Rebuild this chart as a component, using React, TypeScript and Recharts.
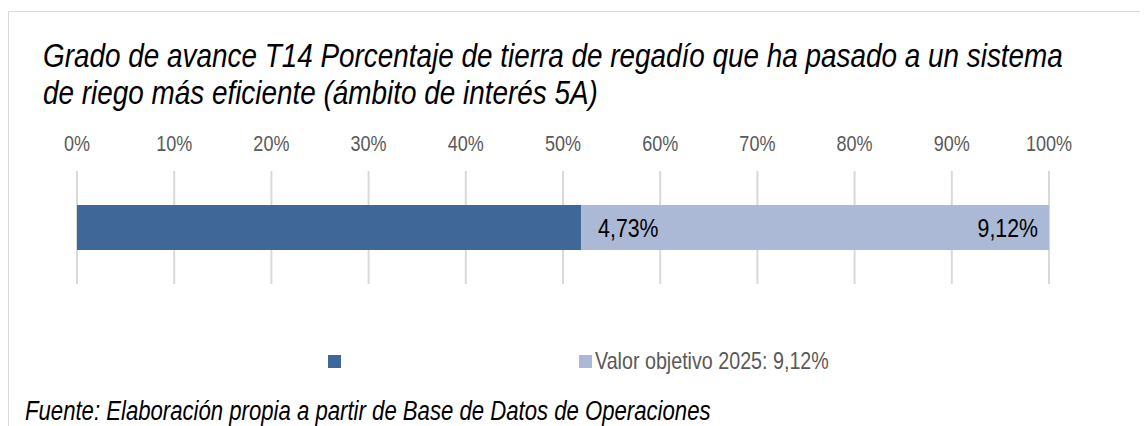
import { BarChart, Bar, XAxis, YAxis, CartesianGrid, LabelList } from 'recharts'

// indicador T14: avance actual frente al valor objetivo 2025
const categories = ['T14']
const avanceValues = [4.73]
const objetivoValues = [9.12]
const xTicks = [0, 0.1, 0.2, 0.3, 0.4, 0.5, 0.6, 0.7, 0.8, 0.9, 1]
const legendLabels = ['', 'Valor objetivo 2025: 9,12%']

// Arial Narrow no existe aquí: Liberation Sans estrechada a mano
const FONT = '"Liberation Sans", Arial, sans-serif'
const NARROW = 0.82
const DARK = '#3f6899'
const LIGHT = '#abb9d6'

const data = categories.map((name, i) => ({
  name,
  avance: avanceValues[i],
  resto: +(objetivoValues[i] - avanceValues[i]).toFixed(2),
  objetivo: objetivoValues[i],
}))

const pct = (v: number) => `${v.toFixed(2).replace('.', ',')}%`

const narrowDiv = { transform: `scaleX(${NARROW})`, transformOrigin: 'left top', whiteSpace: 'nowrap' as const }

const PctTick = (props: any) => {
  const { x, y, payload } = props
  return (
    <text
      transform={`translate(${x},${y}) scale(${NARROW},1)`}
      textAnchor="middle"
      fontSize={22}
      fill="#595959"
      fontFamily={FONT}
    >
      {`${Math.round(payload.value * 100)}%`}
    </text>
  )
}

const barLabel = (side: 'after' | 'end') => (props: any) => {
  const { x, y, width, height, value } = props
  const tx = side === 'after' ? x + width + 17 : x + width - 11
  const ty = y + height / 2 + 9
  return (
    <text
      transform={`translate(${tx},${ty}) scale(${NARROW},1)`}
      textAnchor={side === 'after' ? 'start' : 'end'}
      fontSize={26}
      fill="#000"
      fontFamily={FONT}
    >
      {pct(Number(value))}
    </text>
  )
}

export default function App() {
  return (
    <div style={{ position: 'relative', width: 1140, height: 418, overflow: 'hidden', fontFamily: FONT }}>
      <style>{'body{overflow:hidden}'}</style>
      <div
        style={{
          position: 'absolute',
          left: 0,
          top: 3,
          width: 1140,
          height: 415,
          borderTop: '1px solid #d9d9d9',
          borderLeft: '1px solid #d9d9d9',
          boxSizing: 'border-box',
        }}
      />
      <div
        style={{
          position: 'absolute',
          left: 35,
          top: 29,
          fontSize: 34,
          lineHeight: '37px',
          fontStyle: 'italic',
          color: '#000',
          ...narrowDiv,
        }}
      >
        Grado de avance T14 Porcentaje de tierra de regadío que ha pasado a un sistema
        <br />
        de riego más eficiente (ámbito de interés 5A)
      </div>

      <div style={{ position: 'absolute', left: 0, top: 100 }}>
        <BarChart
          width={1100}
          height={200}
          data={data}
          layout="vertical"
          stackOffset="expand"
          margin={{ top: 23, right: 59, left: 69, bottom: 24 }}
        >
          <CartesianGrid horizontal={false} stroke="#d9d9d9" strokeWidth={2} />
          <XAxis
            type="number"
            orientation="top"
            domain={[0, 1]}
            ticks={xTicks}
            height={40}
            axisLine={false}
            tickLine={false}
            tickSize={0}
            tickMargin={20}
            tick={<PctTick />}
          />
          <YAxis type="category" dataKey="name" hide />
          <Bar dataKey="avance" stackId="a" fill={DARK} barSize={45} isAnimationActive={false}>
            <LabelList dataKey="avance" content={barLabel('after')} />
          </Bar>
          <Bar dataKey="resto" stackId="a" fill={LIGHT} barSize={45} isAnimationActive={false}>
            <LabelList dataKey="objetivo" content={barLabel('end')} />
          </Bar>
        </BarChart>
      </div>

      {/* leyenda */}
      <div style={{ position: 'absolute', left: 320, top: 347, width: 13, height: 13, background: DARK }} />
      <span style={{ position: 'absolute', left: 336, top: 341, fontSize: 24, color: '#595959' }}>{legendLabels[0]}</span>
      <div style={{ position: 'absolute', left: 571, top: 347, width: 13, height: 13, background: LIGHT }} />
      <span
        style={{ position: 'absolute', left: 587, top: 341, fontSize: 24, lineHeight: '24px', color: '#595959', ...narrowDiv }}
      >
        {legendLabels[1]}
      </span>

      <div
        style={{
          position: 'absolute',
          left: 17,
          top: 390,
          fontSize: 27,
          lineHeight: '27px',
          fontStyle: 'italic',
          color: '#000',
          ...narrowDiv,
        }}
      >
        Fuente: Elaboración propia a partir de Base de Datos de Operaciones
      </div>
    </div>
  )
}
